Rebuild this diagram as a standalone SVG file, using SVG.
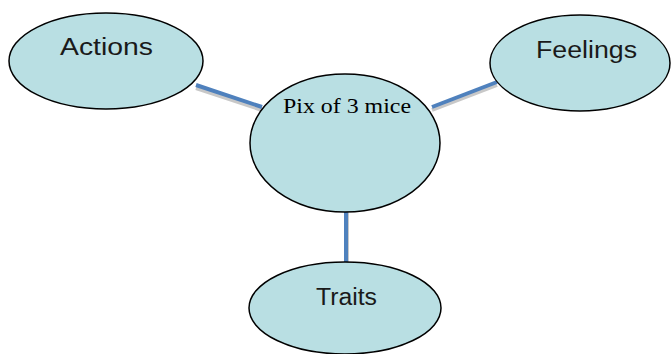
<svg xmlns="http://www.w3.org/2000/svg" width="671" height="354" viewBox="0 0 671 354">
<style>
.n{fill:#b9dfe3;stroke:#000;stroke-width:1.5}
.t{font-family:"Liberation Sans",Arial,sans-serif;font-size:23px;fill:#1a1a1a;text-anchor:middle}
.s{font-family:"Liberation Serif","Times New Roman",serif;font-size:22px;fill:#000;text-anchor:middle}
.sh{stroke:#c8c8c8;stroke-width:4;fill:none}
.c{stroke:#4f81bd;stroke-width:4;fill:none}
</style>
<rect width="671" height="354" fill="#fff"/>
<g id="connectors">
<line class="sh" x1="196" y1="88" x2="262" y2="110"/>
<line class="c" x1="196" y1="85" x2="262" y2="107"/>
<line class="sh" x1="432" y1="110" x2="497" y2="85"/>
<line class="c" x1="432" y1="107" x2="497" y2="82"/>
<line class="sh" x1="347" y1="212" x2="347" y2="263"/>
<line class="c" x1="346" y1="211" x2="346" y2="262"/>
</g>
<g id="actions">
<ellipse class="n" cx="106" cy="61" rx="97" ry="48"/>
<text class="t" x="106.5" y="55" textLength="93" lengthAdjust="spacingAndGlyphs">Actions</text>
</g>
<g id="feelings">
<ellipse class="n" cx="580" cy="63" rx="90" ry="48"/>
<text class="t" x="586.5" y="58" textLength="101" lengthAdjust="spacingAndGlyphs">Feelings</text>
</g>
<g id="center">
<ellipse class="n" cx="345" cy="143" rx="95" ry="69"/>
<text class="s" x="347" y="113" textLength="128" lengthAdjust="spacingAndGlyphs">Pix of 3 mice</text>
</g>
<g id="traits">
<ellipse class="n" cx="345" cy="308" rx="96" ry="46"/>
<text class="t" x="346.5" y="305" textLength="61" lengthAdjust="spacingAndGlyphs">Traits</text>
</g>
</svg>
